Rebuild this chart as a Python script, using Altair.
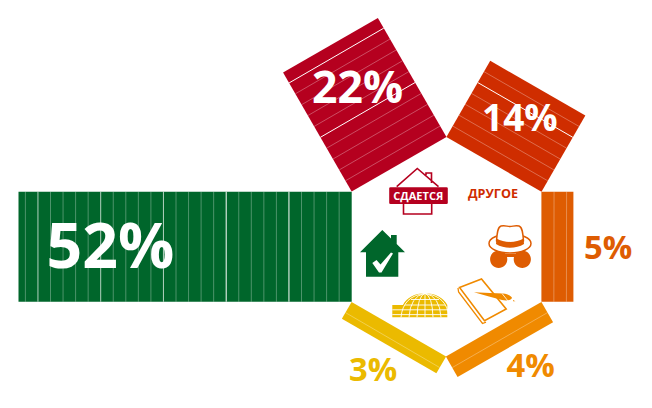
import re
import math
import altair as alt
import pandas as pd

# ---- chart values ----
labels = ["52%", "22%", "14%", "5%", "4%", "3%"]
drawn_share = [53.1, 21.9, 14.0, 5.1, 3.75, 3.1]   # bar length as drawn, in percent
colors = ["#00662B", "#B5001F", "#CF2D00", "#DE5C02", "#F08A00", "#EBBA00"]
bright_every = [5, 5, 5, 0, 0, 0]
soft_from = [15, 99, 99, 99, 99, 99]

# ---- layout: the hexagon in page coordinates ----
PX_PER_PCT = 6.275
STRIPE_PCT = 2.0
hexagon = [(351.7, 301.7), (351.7, 191.7), (446.4, 136.9), (541.5, 191.7), (541.3, 301.7), (446.0, 356.7)]
centre = (446.5, 246.7)
label_pos = [(46.5, 268, 62.5, "#FFFFFF"), (312, 103.3, 44.5, "#FFFFFF"), (482, 130.7, 37, "#FFFFFF"),
             (584, 259.3, 32.8, colors[3]), (506.5, 376.7, 32.8, colors[4]), (349, 380.7, 32.8, colors[5])]

W, H = 636, 392
xs = alt.Scale(domain=[8, 8 + W], nice=False, zero=False)
ys = alt.Scale(domain=[8 + H, 8], nice=False, zero=False)

bars, stripes = [], []
for i, share in enumerate(drawn_share):
    a, b = hexagon[i], hexagon[(i + 1) % 6]
    mx, my = (a[0] + b[0]) / 2, (a[1] + b[1]) / 2
    dx, dy = mx - centre[0], my - centre[1]
    n = math.hypot(dx, dy)
    ux, uy = dx / n, dy / n
    length = share * PX_PER_PCT
    width = math.hypot(b[0] - a[0], b[1] - a[1])
    vx, vy = (b[0] - a[0]) / width, (b[1] - a[1]) / width
    bars.append(dict(x=mx, y=my, x2=mx + ux * length, y2=my + uy * length, w=width, c=colors[i]))
    k = 1
    while k * STRIPE_PCT * PX_PER_PCT < length - 3:
        d = k * STRIPE_PCT * PX_PER_PCT
        cx, cy = mx + ux * d, my + uy * d
        bright = bright_every[i] and k % bright_every[i] == 0
        if bright and k >= soft_from[i]:
            op, sw = 0.7, 1.0
        elif bright:
            op, sw = 1.0, 1.0
        else:
            op, sw = 0.38, 0.8
        stripes.append(dict(x=cx - vx * width / 2, y=cy - vy * width / 2,
                            x2=cx + vx * width / 2, y2=cy + vy * width / 2, o=op, s=sw))
        k += 1


def rule_layer(rows, **enc):
    return alt.Chart(pd.DataFrame(rows)).mark_rule().encode(
        x=alt.X("x:Q", scale=xs, axis=None), y=alt.Y("y:Q", scale=ys, axis=None),
        x2="x2:Q", y2="y2:Q", **enc)


layers = [
    rule_layer(bars, strokeWidth=alt.StrokeWidth("w:Q", scale=None),
               color=alt.Color("c:N", scale=None)),
    rule_layer(stripes, strokeWidth=alt.StrokeWidth("s:Q", scale=None),
               opacity=alt.Opacity("o:Q", scale=None), color=alt.value("#FFFFFF")),
]

R = 50.0


def glyph(d, cx, cy, fill=None, stroke=None, sw=1.0):
    count = [0]

    def sub(m):
        v = float(m.group(0))
        c = cx if count[0] % 2 == 0 else cy
        count[0] += 1
        return f"{(v - c) / R:.4f}"

    shape = re.sub(r"-?\d+\.?\d*", sub, d)
    kw = dict(filled=True, shape=shape, size=(2 * R) ** 2, opacity=1,
              fill=fill if fill else "transparent", strokeWidth=sw)
    kw["stroke"] = stroke if stroke else "transparent"
    return alt.Chart(pd.DataFrame([{"x": cx, "y": cy}])).mark_point(**kw).encode(
        x=alt.X("x:Q", scale=xs, axis=None), y=alt.Y("y:Q", scale=ys, axis=None))


def ell(cx, cy, rx, ry):
    k = 0.5523
    return (f"M{cx - rx},{cy} C{cx - rx},{cy - ry * k} {cx - rx * k},{cy - ry} {cx},{cy - ry} "
            f"C{cx + rx * k},{cy - ry} {cx + rx},{cy - ry * k} {cx + rx},{cy} "
            f"C{cx + rx},{cy + ry * k} {cx + rx * k},{cy + ry} {cx},{cy + ry} "
            f"C{cx - rx * k},{cy + ry} {cx - rx},{cy + ry * k} {cx - rx},{cy} Z")


RED = colors[1]
GRN = colors[0]
HAT = colors[3]
PEN = colors[4]
YEL = colors[5]

# rent house
layers += [
    glyph("M396.7,186.7 L417.3,168.5 L438.5,186.7 M426,175 L426,173 L431.5,173 L431.5,183 "
          "M403.5,204 L403.5,214 L431.7,214 L431.7,204", 417, 190, stroke=RED, sw=1.6),
    glyph("M390.5,187.3 L446.5,187.3 Q447.8,187.3 447.8,188.6 L447.8,202.8 Q447.8,204 446.5,204 "
          "L390.5,204 Q389.2,204 389.2,202.8 L389.2,188.6 Q389.2,187.3 390.5,187.3 Z", 418, 195, fill=RED),
]

# green house with tick
layers += [
    glyph("M382.3,230 L391,238.5 L391,235 L396.7,235 L396.7,244 L405,252.3 L398.3,252.3 L398.3,276.7 "
          "L366,276.7 L366,252.3 L360,252.3 Z", 382, 252, fill=GRN),
    glyph("M372.3,263 L376.5,260 L380.5,264.5 L391,252.5 L393,253.5 L381.5,272.5 L379,272.5 Z",
          382, 262, fill="#FFFFFF"),
]

# hat and glasses
layers += [
    glyph(ell(498.7, 259.3, 8.6, 8.8) + " " + ell(522.3, 259.3, 8.6, 8.8) +
          " M503,254 L518,254 L518,257 L503,257 Z", 510, 258, fill=HAT),
    glyph(ell(510, 243.5, 21, 9.5), 510, 244, fill="#FFFFFF", stroke=HAT, sw=1.5),
    glyph("M496.5,241 C497,234 497.5,227 501,226 C505,225 507,226.5 510,226.5 C513,226.5 515,225 519,226 "
          "C522.5,227 523,234 523.5,241 C516,247 504,247 496.5,241 Z", 510, 236,
          fill="#FFFFFF", stroke=HAT, sw=1.4),
    glyph("M496.5,238.5 C504,243 516,243 523.5,238.5 L524,244 C516,249 504,249 496,244 Z", 510, 243, fill=HAT),
]

# dome
meridians = " ".join(f"M425,293.3 Q{425 + s * 0.92},{296} {425 + s},{317.3}" for s in (-24, -16, -8, 0, 8, 16, 24))
layers += [
    glyph("M392.3,305 L403,305 C406,298 415,293.3 425,293.3 C435,293.3 444,298 447.3,305 "
          "L447.3,317.3 L392.3,317.3 Z", 420, 305, fill=YEL),
    glyph(meridians + " M392.3,309.8 L448,309.8 M392.3,314.6 L448,314.6 "
          "M405,305 L445,305 M411,299.5 L439,299.5", 420, 305, stroke="#FFFFFF", sw=0.9),
]

# notebook and pen
layers += [
    glyph("M458,288 L458.6,292 L482.5,323.5 L486,322.2", 470, 305, stroke=PEN, sw=1.3),
    glyph("M459.5,287.4 L481.5,279 L506.2,309 L484.5,320.8 Z", 482, 300, fill="#FFFFFF", stroke=PEN, sw=1.6),
    glyph("M474,292.3 L490,293 L503,293.5 C508,294 512,296.5 512,298 C511,300.5 506,301 502,300 "
          "L489,296.5 Z M513,300 L515.5,301.2 L513,301.2 Z", 495, 296, fill=PEN),
    glyph("M502,293.5 L508,301", 505, 297, stroke="#FFFFFF", sw=0.8),
]


def text_layer(t, x, y, size, color, weight="bold", font="Open Sans", align="left"):
    return alt.Chart(pd.DataFrame([{"x": x, "y": y, "t": t}])).mark_text(
        font=font, fontSize=size, fontWeight=weight, color=color, align=align, baseline="alphabetic"
    ).encode(x=alt.X("x:Q", scale=xs, axis=None), y=alt.Y("y:Q", scale=ys, axis=None), text="t:N")


for t, (x, y, size, col) in zip(labels, label_pos):
    layers.append(text_layer(t, x, y, size, col))
layers.append(text_layer("СДАЕТСЯ", 418.3, 199.6, 11, "#FFFFFF", align="center"))
layers.append(text_layer("ДРУГОЕ", 493, 198, 12.6, colors[2], align="center"))

chart = alt.layer(*layers).properties(
    width=W, height=H, padding=0, autosize=alt.AutoSizeParams(type="none"),
    background="#FFFFFF",
).configure_view(stroke=None)

chart.save("out.html", embed_options={"renderer": "svg", "actions": False})
